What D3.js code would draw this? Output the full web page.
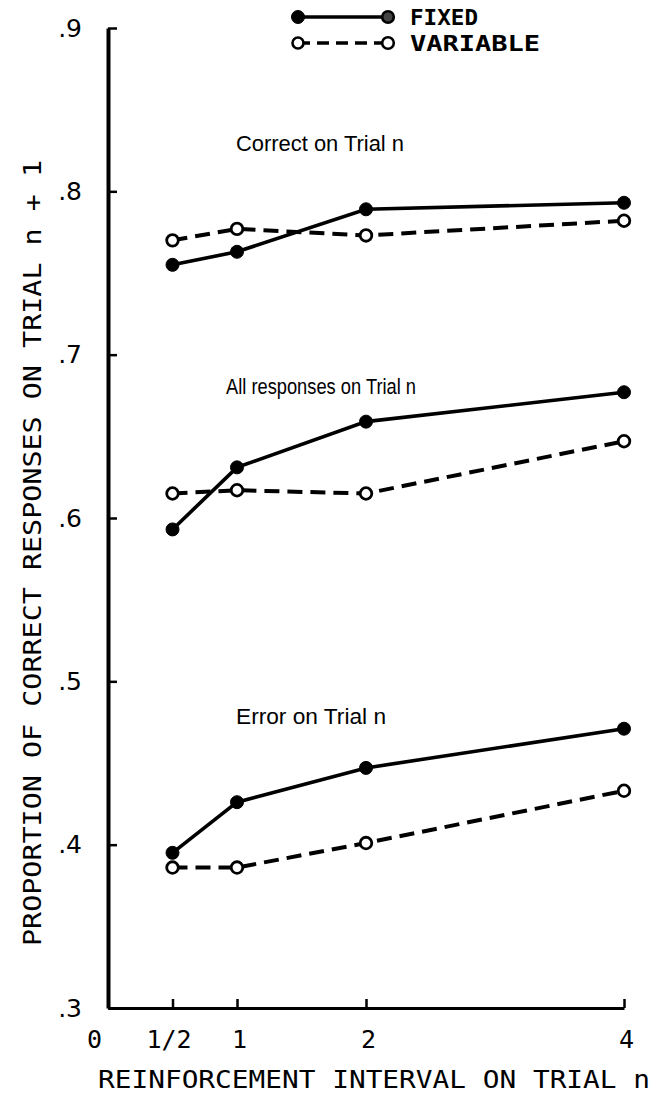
<!DOCTYPE html>
<html lang="en">
<head>
<meta charset="utf-8">
<script src="https://cdn.jsdelivr.net/npm/d3@7"></script>
<title>Proportion of correct responses</title>
<style>
  body { margin: 0; background: #fff; }
  svg { display: block; }
</style>
</head>
<body>
<svg width="654" height="1095" id="plot"></svg>
<script>
// reinforcement intervals on trial n
const intervals = [0.5, 1, 2, 4]

// proportions
const correctFixed = [0.755, 0.763, 0.789, 0.793]
const correctVariable = [0.770, 0.777, 0.773, 0.782]
const allFixed = [0.593, 0.631, 0.659, 0.677]
const allVariable = [0.615, 0.617, 0.615, 0.647]
const errorFixed = [0.395, 0.426, 0.447, 0.471]
const errorVariable = [0.386, 0.386, 0.401, 0.433]

// axis ticks
const xTicks = [0, 0.5, 1, 2, 4]
const xTickLabels = ["0", "1/2", "1", "2", "4"]
const yTicks = [0.3, 0.4, 0.5, 0.6, 0.7, 0.8, 0.9]
const yTickLabels = [".3", ".4", ".5", ".6", ".7", ".8", ".9"]

const groupLabels = ["Correct on Trial  n", "All responses on Trial  n", "Error on Trial  n"]
const legendLabels = ["FIXED", "VARIABLE"]

const svg = d3.select("#plot")

// scales
const x = d3.scaleLinear().domain([0, 4]).range([108, 624])
const y = d3.scaleLinear().domain([0.3, 0.9]).range([1008, 28])

// Y axis
const axisY = d3.axisLeft(y)
    .tickValues(yTicks)
    .tickFormat((d, i) => yTickLabels[i])
    .tickSizeInner(-9)
    .tickSizeOuter(0)
    .tickPadding(26)
const gy = svg.append("g").attr("transform", "translate(108,0)").call(axisY)
gy.select(".domain").attr("stroke-width", 4)
gy.selectAll(".tick line").attr("stroke-width", 2.5)
gy.selectAll(".tick text")
    .style("font-family", "DejaVu Sans")
    .style("font-size", "25px")
    .attr("fill", "#000")

// X axis
const axisX = d3.axisBottom(x)
    .tickValues(xTicks)
    .tickFormat((d, i) => xTickLabels[i])
    .tickSizeInner(-9)
    .tickSizeOuter(0)
    .tickPadding(22)
const gx = svg.append("g").attr("transform", "translate(0,1008)").call(axisX)
gx.select(".domain").attr("stroke-width", 3)
gx.selectAll(".tick line").attr("stroke-width", 2.5)
    .attr("display", d => d === 0 ? "none" : null)
gx.selectAll(".tick text")
    .style("font-family", "DejaVu Sans Mono")
    .style("font-size", "25px")
    .attr("fill", "#000")
    .attr("dx", d => d === 0 ? -14 : (d === 0.5 ? -4 : 2))

// axis titles
svg.append("text")
    .text("REINFORCEMENT INTERVAL ON TRIAL n")
    .attr("x", 98)
    .attr("y", 1088)
    .attr("textLength", 552)
    .attr("lengthAdjust", "spacingAndGlyphs")
    .style("font-family", "DejaVu Sans Mono")
    .style("font-size", "25px")

svg.append("text")
    .text("PROPORTION OF CORRECT RESPONSES ON TRIAL n + 1")
    .attr("transform", "translate(41,553) rotate(-90)")
    .attr("text-anchor", "middle")
    .attr("textLength", 786)
    .attr("lengthAdjust", "spacingAndGlyphs")
    .style("font-family", "DejaVu Sans Mono")
    .style("font-size", "25px")

// group labels
const groupPos = [[236, 151, 168], [226, 394, 190], [236, 724, 150]]
groupLabels.forEach((t, i) => {
    svg.append("text")
        .text(t)
        .attr("x", groupPos[i][0])
        .attr("y", groupPos[i][1])
        .attr("textLength", groupPos[i][2])
        .attr("lengthAdjust", "spacingAndGlyphs")
        .style("font-family", "Liberation Sans")
        .style("font-size", "22px")
})

// lines
const series = [
    { values: correctFixed, fixed: true },
    { values: correctVariable, fixed: false },
    { values: allFixed, fixed: true },
    { values: allVariable, fixed: false },
    { values: errorFixed, fixed: true },
    { values: errorVariable, fixed: false }
]

const line = d3.line()
    .x(d => x(d[0]))
    .y(d => y(d[1]))

series.forEach(s => {
    const pts = intervals.map((v, i) => [v, s.values[i]])
    svg.append("path")
        .datum(pts)
        .attr("fill", "none")
        .attr("stroke", "#000")
        .attr("stroke-width", s.fixed ? 3.6 : 4)
        .attr("stroke-dasharray", s.fixed ? null : "15,8")
        .attr("d", line)
})

// markers drawn on top
series.forEach(s => {
    const pts = intervals.map((v, i) => [v, s.values[i]])
    svg.selectAll(null)
        .data(pts)
        .enter()
        .append("circle")
        .attr("cx", d => x(d[0]))
        .attr("cy", d => y(d[1]))
        .attr("r", s.fixed ? 6.5 : 5.8)
        .attr("fill", s.fixed ? "#000" : "#fff")
        .attr("stroke", "#000")
        .attr("stroke-width", s.fixed ? 1 : 2.8)
})

// legend
const legend = svg.append("g")
legendLabels.forEach((t, i) => {
    const ly = 17 + i * 26
    const fixed = i === 0
    legend.append("line")
        .attr("x1", 298).attr("x2", 388)
        .attr("y1", ly).attr("y2", ly)
        .attr("stroke", "#000")
        .attr("stroke-width", fixed ? 3.4 : 3.6)
        .attr("stroke-dasharray", fixed ? null : "12,7")
    legend.append("circle")
        .attr("cx", 298).attr("cy", ly)
        .attr("r", fixed ? 6.5 : 5.5)
        .attr("fill", fixed ? "#000" : "#fff")
        .attr("stroke", "#000")
        .attr("stroke-width", fixed ? 1 : 2.6)
    legend.append("circle")
        .attr("cx", 388).attr("cy", ly)
        .attr("r", 5.8)
        .attr("fill", fixed ? "#444" : "#fff")
        .attr("stroke", "#000")
        .attr("stroke-width", 2.6)
    legend.append("text")
        .text(t)
        .attr("x", 410)
        .attr("y", ly + 8)
        .attr("textLength", fixed ? 68 : 130)
        .attr("lengthAdjust", "spacingAndGlyphs")
        .style("font-family", "DejaVu Sans Mono")
        .style("font-size", "22px")
        .style("font-weight", "bold")
})
</script>
</body>
</html>
